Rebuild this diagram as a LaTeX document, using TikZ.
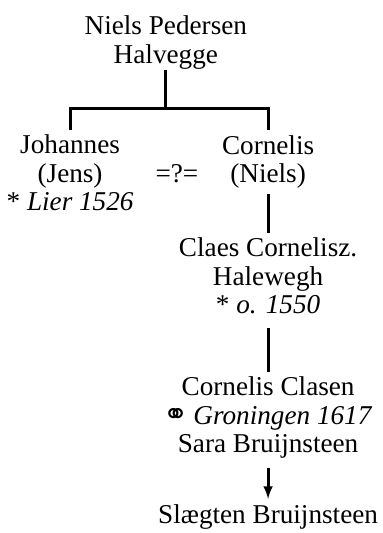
\documentclass[tikz,border=0pt]{standalone}
\usepackage{fontspec}
\setmainfont{Liberation Serif}
\newfontfamily\marrfont[Scale=1.1]{DejaVu Sans}
\newcommand{\marr}{{\marrfont ⚭}}
\tikzset{
	person/.style={align=center, anchor=base, inner xsep=0pt, inner ysep=0.13cm, font=\fontsize{20.2pt}{21.2pt}\selectfont},
	tree/.style={line width=2.2pt},
}
\begin{document}
\begin{tikzpicture}
	\useasboundingbox (0,0) rectangle (10,13.917);
	\node[person] (niels) at (4.33,12.27) {Niels Pedersen\\Halvegge};
	\node[person] (johannes) at (1.83,8.41) {Johannes\\(Jens)\\* \textit{Lier 1526}};
	\node[person] (cornelis) at (7.00,9.14) {Cornelis\\(Niels)};
	\node[person] (eq) at (4.62,9.14) {=?=};
	\node[person] (claes) at (7.00,5.72) {Claes Cornelisz.\\Halewegh\\* \textit{o. 1550}};
	\node[person] (clasen) at (7.00,2.09) {Cornelis Clasen\\\marr\,\textit{Groningen 1617}\\Sara Bruijnsteen};
	\node[person] (slaegten) at (7.00,0.26) {Slægten Bruijnsteen};
	\draw[tree] (niels.south) ++(0,0.1) -- ++(0,-0.99) -| (johannes.north);
	\draw[tree] (niels.south) ++(0,-0.89) -| (cornelis.north);
	\draw[tree] (cornelis.south) -- (claes.north);
	\draw[tree, shorten <=0.23cm] (claes.south) -- (clasen.north);
	\draw[tree, -latex, shorten <=0.1cm] (clasen.south) -- (slaegten.north);
\end{tikzpicture}
\end{document}
